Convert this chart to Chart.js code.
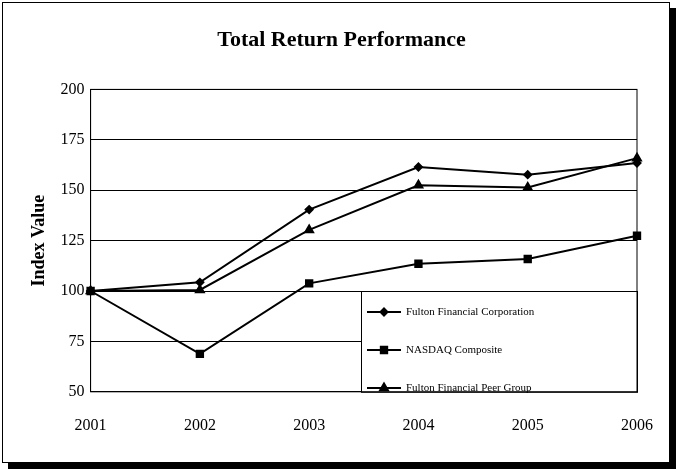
<!DOCTYPE html>
<html><head><meta charset="utf-8">
<script src="https://cdn.jsdelivr.net/npm/chart.js@4/dist/chart.umd.min.js"></script>
<style>
body{margin:0;background:#fff;}
#frame{position:absolute;left:2px;top:2px;width:666px;height:459px;border:1px solid #000;background:#fff;box-shadow:6px 6px 0 #000;}
#wrap{position:absolute;left:0;top:0;width:666px;height:459px;}
</style></head><body>
<div id="frame"><div id="wrap"><canvas id="c"></canvas></div></div>
<script>
const years=['2001','2002','2003','2004','2005','2006'];
const fulton=[100,104.3,140.4,161.5,157.7,163.5];
const nasdaq=[100,68.8,103.8,113.5,115.9,127.4];
const peer=[100,100.5,130.3,152.4,151.4,165.9];
const names=['Fulton Financial Corporation','NASDAQ Composite','Fulton Financial Peer Group'];
const styles=['rectRot','rect','triangle'];
const radii=[3.5,4.5,4.5];
const F='"Liberation Serif", "Times New Roman", serif';
const legendPlugin={id:'lg',afterDraw(ch){
  const c=ch.ctx,a=ch.chartArea;
  const x0=358,y0=288,x1=a.right,y1=a.bottom;
  c.save();c.fillStyle='#fff';c.fillRect(x0,y0,x1-x0,y1-y0);
  c.strokeStyle='#000';c.lineWidth=1;c.strokeRect(x0+0.5,y0+0.5,x1-x0,y1-y0);
  names.forEach((n,i)=>{
    const y=y0+21+i*38;
    c.beginPath();c.moveTo(x0+6,y);c.lineTo(x0+40,y);c.lineWidth=2;c.stroke();
    Chart.helpers.drawPoint(c,{pointStyle:styles[i],radius:radii[i],borderWidth:1},x0+23,y);
    c.fillStyle='#000';c.fill();
    c.font='11px '+F;c.textBaseline='middle';c.fillText(n,x0+45,y);
  });
  c.restore();
}};
Chart.defaults.font.family=F;Chart.defaults.color='#000';
new Chart(document.getElementById('c'),{type:'line',
 data:{labels:years,datasets:[fulton,nasdaq,peer].map((d,i)=>({label:names[i],data:d,borderColor:'#000',backgroundColor:'#000',borderWidth:2,pointStyle:styles[i],pointRadius:radii[i],tension:0}))},
 options:{responsive:true,maintainAspectRatio:false,animation:false,
  layout:{padding:{left:22,right:11,top:14,bottom:11}},
  plugins:{legend:{display:false},tooltip:{enabled:false},
   title:{display:true,text:'Total Return Performance',font:{size:22,weight:'bold'},padding:{top:10,bottom:36}}},
  scales:{
   x:{offset:false,grid:{display:false},border:{color:'#000',width:1},ticks:{font:{size:16},padding:16}},
   y:{min:50,max:200,ticks:{stepSize:25,font:{size:16},padding:6},grid:{color:'#000',drawTicks:false},border:{color:'#000'},
      title:{display:true,text:'Index Value',font:{size:18,weight:'bold'}}}
  }}, plugins:[legendPlugin,{id:'bd',afterDraw(ch){const c=ch.ctx,a=ch.chartArea;c.save();c.strokeStyle='#000';c.lineWidth=1;c.strokeRect(a.left,a.top,a.right-a.left,a.bottom-a.top);c.restore();}}]});
</script></body></html>
